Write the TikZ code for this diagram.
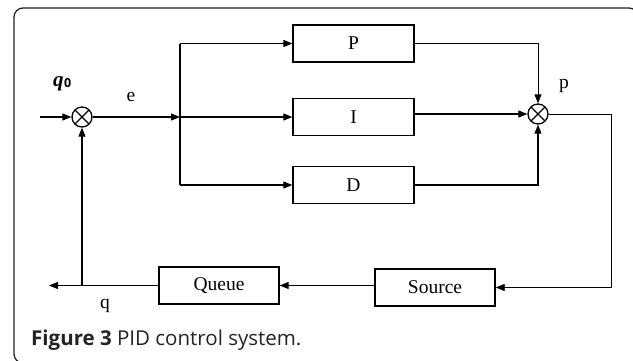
\documentclass[tikz,border=0pt]{standalone}
\usepackage{fontspec}
\setmainfont{Liberation Serif}
\newfontfamily\capfont{Open Sans}
\usetikzlibrary{arrows.meta,calc}
\definecolor{capgray}{HTML}{232323}
\tikzset{
  arr/.style={-{Triangle[length=9pt,width=7pt]}},
  wire/.style={line width=1.1pt},
  thinwire/.style={line width=0.8pt},
  block/.style={draw, line width=1.3pt, minimum width=121pt, minimum height=37pt, inner sep=0pt, font=\fontsize{19.5}{22}\selectfont},
  sumnode/.style={circle, draw, line width=1.3pt, minimum size=20pt, inner sep=0pt,
    path picture={\draw[line width=1.1pt] (path picture bounding box.north west) -- (path picture bounding box.south east)
                               (path picture bounding box.north east) -- (path picture bounding box.south west);}},
  lab/.style={font=\fontsize{19.5}{22}\selectfont, inner sep=0pt},
}
\begin{document}
\begin{tikzpicture}[x=1pt,y=-1pt]
\useasboundingbox (0,0) rectangle (633,360);
\begin{scope}
\clip (0,0) rectangle (633,360);
\draw[line width=1.3pt, draw=capgray, rounded corners=9pt] (14,8) rectangle (638,363);
\end{scope}

% nodes
\node[sumnode] (s1) at (82,117) {};
\node[sumnode] (s2) at (538,114) {};
\coordinate (in) at (40,117);
\coordinate (j) at (180,117);
\node[block] (P) at (353.5,43.5) {P};
\node[block] (I) at (353.5,117) {I};
\node[block] (D) at (353.5,185) {D};
\node[block, minimum width=120pt] (src) at (435,287.5) {Source};
\node[block, minimum width=120pt] (que) at (219,285.5) {Queue};
\coordinate (rt) at (611,114);
\coordinate (rb) at (611,287.5);
\coordinate (out) at (49,285.5);

% labels
\node[lab, anchor=base west] (lq0) at (53,86.5) {\fontsize{21}{22}\selectfont\textit{\textbf{q}}\hspace{0.5pt}\raisebox{-0.5pt}{\capfont\fontsize{12.5}{13}\selectfont\bfseries 0}};
\node[lab] (le) at (131,97) {e};
\node[lab] (lp) at (564,86) {p};
\node[lab] (lq) at (105,306) {q};
\node[anchor=base west, inner sep=0pt, text=capgray, font=\capfont\fontsize{20.5}{24}\selectfont] (cap) at (31,345.7) {\textbf{Figure 3} PID control system.};

% connectors
\draw[wire,arr] (in) -- (s1.west);
\draw[wire,arr] (s1.east) -- (j);
\draw[wire,arr] (j) -- (I.west |- j);
\draw[wire] (j |- P.west) -- (j |- D.west);
\draw[wire,arr] (j |- P.west) -- (P.west);
\draw[wire,arr] (j |- D.west) -- (D.west);
\draw[thinwire,arr] (P.east) -- (s2 |- P.east) -- (s2.north);
\draw[wire,arr] (I.east |- s2) -- (s2.west);
\draw[wire,arr] (D.east) -- (s2 |- D.east) -- (s2.south);
\draw[thinwire,arr] (s2.east) -- (rt) -- (rb) -- (src.east |- rb);
\draw[wire,arr] (src.west |- que.east) -- (que.east);
\draw[wire,arr] (que.west) -- (out);
\draw[wire,arr] (s1 |- que.west) -- (s1.south);
\end{tikzpicture}
\end{document}
